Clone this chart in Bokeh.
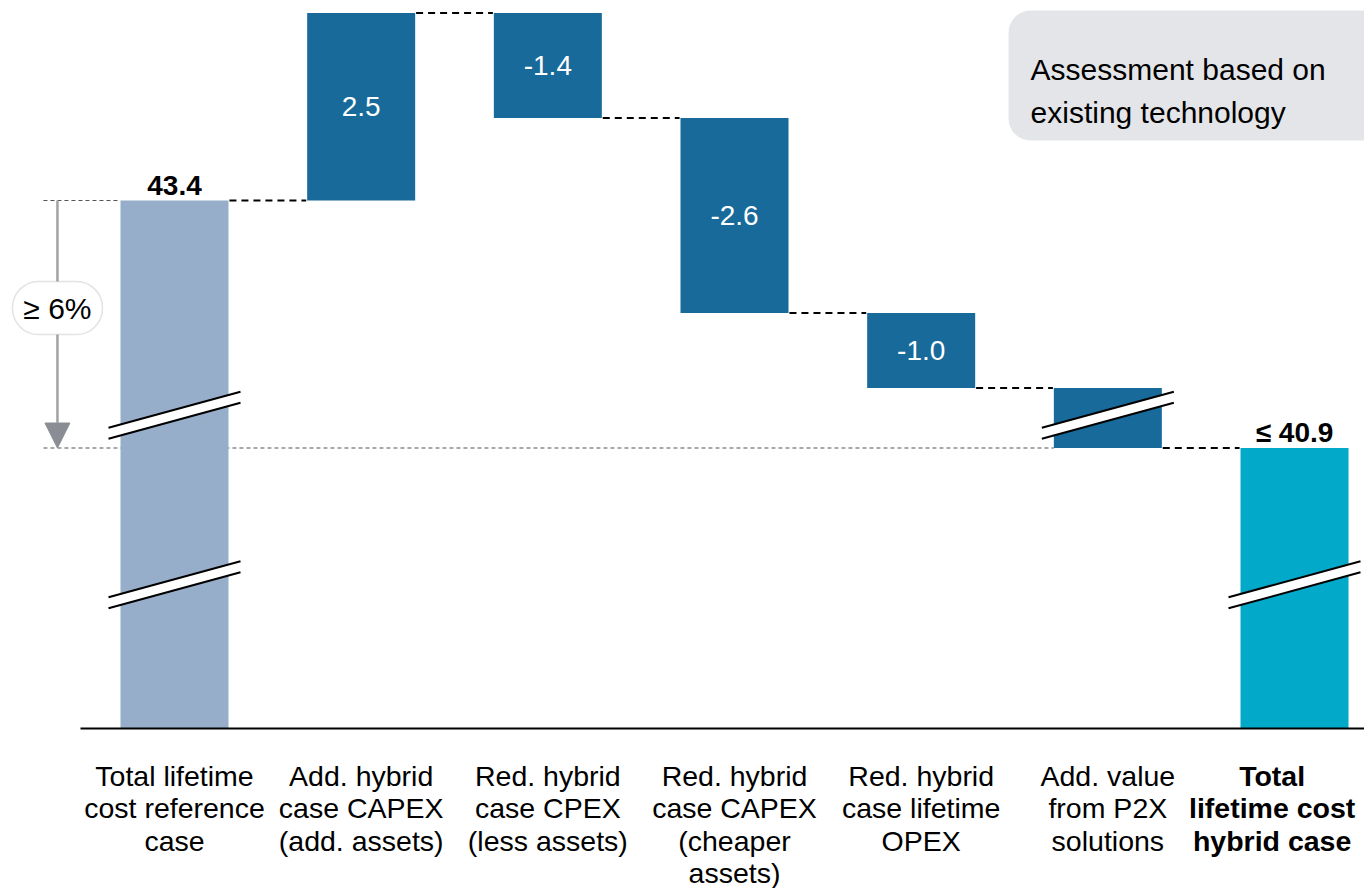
from bokeh.plotting import figure
from bokeh.models import Range1d, Arrow, NormalHead, BoxAnnotation, Label
from bokeh.core.properties import value
from bokeh.embed import file_html
from bokeh.resources import INLINE

# ---------------- data ----------------
categories = [
    "Total lifetime\ncost reference\ncase",
    "Add. hybrid\ncase CAPEX\n(add. assets)",
    "Red. hybrid\ncase CPEX\n(less assets)",
    "Red. hybrid\ncase CAPEX\n(cheaper\nassets)",
    "Red. hybrid\ncase lifetime\nOPEX",
    "Add. value\nfrom P2X\nsolutions",
    "Total\nlifetime cost\nhybrid case",
]
reference_total = 43.4
step_values = [2.5, -1.4, -2.6, -1.0]
step_labels = ["2.5", "-1.4", "-2.6", "-1.0"]
p2x_drawn = -0.8            # not quantified – drawn with axis break
final_label = "≤ 40.9"
reference_label = "43.4"
saving_label = "≥ 6%"
note_lines = ["Assessment based on", "existing technology"]

AXIS_BREAK = 36.36          # value range hidden by the broken axis

FONT = value("Liberation Sans")
C_REF = "#97aecb"
C_STEP = "#186a9a"
C_FINAL = "#02a9c9"

# ---------------- derived geometry ----------------
def disp(v):
    return v - AXIS_BREAK

n = len(categories)
xs = list(range(n))
W = 0.5786

levels = [reference_total]
for s in step_values + [p2x_drawn]:
    levels.append(round(levels[-1] + s, 4))
final_total = levels[-1]

bottoms, tops, colors = [disp(AXIS_BREAK)], [disp(reference_total)], [C_REF]
for i in range(1, n - 1):
    a, b = levels[i - 1], levels[i]
    bottoms.append(disp(min(a, b)))
    tops.append(disp(max(a, b)))
    colors.append(C_STEP)
bottoms.append(disp(AXIS_BREAK))
tops.append(disp(final_total))
colors.append(C_FINAL)

p = figure(width=1364, height=888, output_backend="svg", toolbar_location=None,
           x_range=Range1d(-0.9321, 6.3749), y_range=Range1d(-2.1333, 9.7067),
           x_axis_type=None, y_axis_type=None, min_border=0)
p.outline_line_color = None
p.xgrid.visible = False
p.ygrid.visible = False
p.background_fill_color = "white"

# reference guide lines (thin dotted)
gx0 = -0.702
p.segment(x0=[gx0, gx0], y0=[disp(reference_total), disp(final_total)],
          x1=[xs[0] - W / 2, xs[5] - W / 2], y1=[disp(reference_total), disp(final_total)],
          line_color="#555555", line_width=1.2, line_dash="4 3")

# bars
p.quad(left=[x - W / 2 for x in xs], right=[x + W / 2 for x in xs],
       bottom=bottoms, top=tops, fill_color=colors, line_color=None)

# connectors
cx0, cx1, cy = [], [], []
for i in range(n - 1):
    cx0.append(xs[i] + W / 2 + 0.005)
    cx1.append(xs[i + 1] - W / 2 - 0.005)
    cy.append(disp(levels[i]))
p.segment(x0=cx0, y0=cy, x1=cx1, y1=cy, line_color="black", line_width=1.8, line_dash="7 5")

# axis-break markers
breaks = [(0, 4.01), (0, 1.75), (5, 4.01), (6, 1.75)]
half = W / 2 + 0.0643
rise, gap = 0.48, 0.147
pxs, pys, lxs, lys = [], [], [], []
for i, yb in breaks:
    c = xs[i]
    pxs.append([c - half, c + half, c + half, c - half])
    pys.append([yb, yb + rise, yb + rise - gap, yb - gap])
    lxs += [[c - half, c + half], [c - half, c + half]]
    lys += [[yb, yb + rise], [yb - gap, yb + rise - gap]]
p.patches(pxs, pys, fill_color="white", line_color=None)
p.multi_line(lxs, lys, line_color="black", line_width=2)

# baseline
p.segment(x0=[-0.5036], y0=[0], x1=[6.6], y1=[0], line_color="black", line_width=2)

# value labels inside step bars
mid_x = xs[1:5]
mid_y = [(bottoms[i] + tops[i]) / 2 for i in range(1, 5)]
p.text(x=mid_x, y=mid_y, text=step_labels, text_font=FONT, text_font_size="28px",
       text_color="white", text_align="center", text_baseline="middle")

# totals
p.text(x=[xs[0], xs[6]], y=[tops[0] + 0.2, tops[6] + 0.21], text=[reference_label, final_label],
       text_font=FONT, text_font_size="28px", text_font_style="bold", text_color="black",
       text_align="center", text_baseline="alphabetic")

# category labels
line0 = (728 - 775) / 75.0
lstep = 32.5 / 75.0
tx, ty, tt, bx, by, bt = [], [], [], [], [], []
for i, cat in enumerate(categories):
    for k, line in enumerate(cat.split("\n")):
        if i == n - 1:
            bx.append(xs[i] - 0.12); by.append(line0 - k * lstep); bt.append(line)
        else:
            tx.append(xs[i]); ty.append(line0 - k * lstep); tt.append(line)
p.text(x=tx, y=ty, text=tt, text_font=FONT, text_font_size="28.5px", text_color="black",
       text_align="center", text_baseline="alphabetic")
p.text(x=bx, y=by, text=bt, text_font=FONT, text_font_size="28.5px", text_font_style="bold",
       text_color="black", text_align="center", text_baseline="alphabetic")

# saving arrow with pill label
ax = -0.627
p.add_layout(Arrow(end=NormalHead(size=25, fill_color="#8a8d93", line_color="#8a8d93"),
                   x_start=ax, y_start=disp(reference_total), x_end=ax, y_end=disp(final_total),
                   line_color="#9fa2a7", line_width=2.5))
p.add_layout(BoxAnnotation(left=-0.868, right=-0.386, top=5.96, bottom=5.253,
                           fill_color="white", fill_alpha=1, line_color="#9fa2a7",
                           line_width=1.5, border_radius=26))
p.add_layout(Label(x=ax, y=5.6, text=saving_label, text_font="Liberation Sans",
                   text_font_size="30px", text_align="center", text_baseline="middle",
                   text_color="black"))

# note box
p.add_layout(BoxAnnotation(left=4.468, right=6.6, top=9.573, bottom=7.84,
                           fill_color="#e4e5e8", fill_alpha=1, line_color=None,
                           border_radius=22))
for k, t in enumerate(note_lines):
    p.add_layout(Label(x=4.586, y=(728 - 69 - 43 * k) / 75.0, text=t, text_font="Liberation Sans",
                       text_font_size="30px", text_align="left", text_baseline="alphabetic",
                       text_color="black"))

open("out.html", "w").write(file_html(p, INLINE))
